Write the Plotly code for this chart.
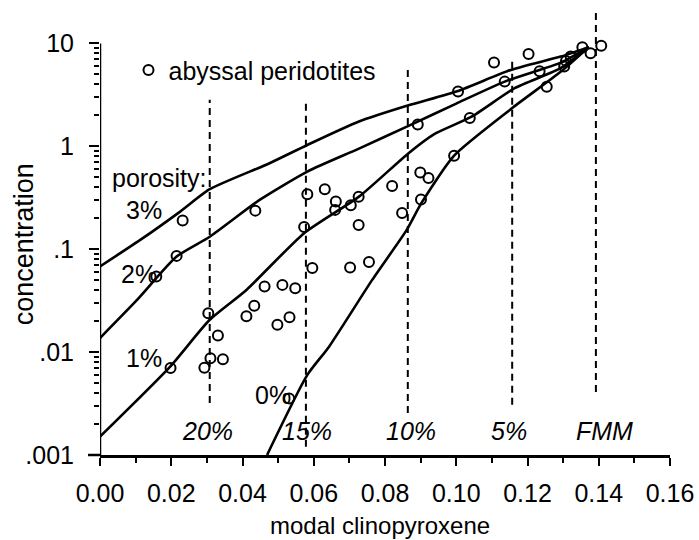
import plotly.graph_objects as go

# ---------------- data ----------------
# model curves (porosity)
x_p3 = [0, 0.0113, 0.0225, 0.0308, 0.0476, 0.0582, 0.0727, 0.0866, 0.1005, 0.1153, 0.1293, 0.1372]
y_p3 = [0.068, 0.123, 0.232, 0.383, 0.685, 1.03, 1.74, 2.5, 3.45, 5.52, 7.44, 9.2]

x_p2 = [0, 0.0104, 0.0215, 0.0308, 0.0448, 0.0582, 0.0727, 0.0866, 0.1000, 0.1136, 0.1293, 0.1372]
y_p2 = [0.0137, 0.0321, 0.0847, 0.132, 0.301, 0.568, 0.95, 1.58, 2.6, 4.25, 6.5, 9.2]

x_p1 = [0, 0.0197, 0.0308, 0.0411, 0.0573, 0.0727, 0.0866, 0.0936, 0.1043, 0.1164, 0.1293, 0.1372]
y_p1 = [0.00151, 0.00723, 0.0206, 0.0402, 0.143, 0.324, 0.857, 1.3, 1.94, 3.67, 5.74, 9.2]

x_p0 = [0.0469, 0.0582, 0.0643, 0.0764, 0.0861, 0.0902, 0.0994, 0.1159, 0.1294, 0.1372]
y_p0 = [0.001, 0.006, 0.0113, 0.0503, 0.154, 0.28, 0.812, 2.38, 5.32, 9.2]

curve_labels = ["3%", "2%", "1%", "0%"]

# abyssal peridotites
x_obs = [0.0158, 0.0215, 0.0232, 0.0436, 0.0198, 0.0304, 0.0331, 0.0293, 0.0310, 0.0345,
         0.0411, 0.0433, 0.0462, 0.0512, 0.0548, 0.0498, 0.0532, 0.0531, 0.0596, 0.0702,
         0.0755, 0.0582, 0.0631, 0.0662, 0.0660, 0.0704, 0.0726, 0.0573, 0.0726, 0.0820,
         0.0892, 0.0899, 0.0922, 0.0901, 0.0848, 0.0994, 0.1005, 0.1038, 0.1106, 0.1203,
         0.1136, 0.1234, 0.1254, 0.1303, 0.1308, 0.1321, 0.1354, 0.1377, 0.1407]
y_obs = [0.0542, 0.0861, 0.190, 0.237, 0.00702, 0.0239, 0.0145, 0.00705, 0.00873, 0.00853,
         0.0223, 0.0282, 0.0433, 0.0450, 0.0418, 0.0184, 0.0218, 0.00355, 0.0658, 0.0663,
         0.0750, 0.342, 0.383, 0.290, 0.241, 0.267, 0.324, 0.164, 0.172, 0.412,
         1.63, 0.555, 0.493, 0.304, 0.225, 0.811, 3.40, 1.88, 6.51, 7.87,
         4.25, 5.37, 3.78, 5.95, 6.76, 7.45, 9.15, 8.03, 9.46]

# melting-degree reference lines (modal cpx, bottom, top)
melt_labels = ["20%", "15%", "10%", "5%", "FMM"]
melt_x = [0.0308, 0.0578, 0.0864, 0.1157, 0.1392]
melt_ybot = [0.0032, 0.0012, 0.00256, 0.00307, 0.0041]
melt_ytop = [2.83, 2.83, 5.78, 6.91, 21.0]

x_ticks = [0, 0.02, 0.04, 0.06, 0.08, 0.10, 0.12, 0.14, 0.16]
x_ticktext = ["0.00", "0.02", "0.04", "0.06", "0.08", "0.10", "0.12", "0.14", "0.16"]
y_ticks = [0.001, 0.01, 0.1, 1, 10]
y_ticktext = [".001", ".01", ".1", "1", "10"]

# ---------------- figure ----------------
FONT = "Liberation Sans, Arial, Helvetica, sans-serif"
FS = 25

fig = go.Figure()

for xs, ys in [(x_p3, y_p3), (x_p2, y_p2), (x_p1, y_p1), (x_p0, y_p0)]:
    fig.add_trace(go.Scatter(x=xs, y=ys, mode="lines", showlegend=False,
                             line=dict(color="black", width=2.6, shape="spline", smoothing=0.6),
                             hoverinfo="skip"))

for mx, yb, yt in zip(melt_x, melt_ybot, melt_ytop):
    fig.add_trace(go.Scatter(x=[mx, mx], y=[yb, yt], mode="lines", showlegend=False,
                             line=dict(color="black", width=2, dash="7px,5px"), hoverinfo="skip"))

# y axis line (from .001 to 10 only)
fig.add_trace(go.Scatter(x=[0, 0], y=[y_ticks[0], y_ticks[-1]], mode="lines", showlegend=False,
                         line=dict(color="black", width=2.5), hoverinfo="skip"))

fig.add_trace(go.Scatter(x=x_obs, y=y_obs, mode="markers", name="abyssal peridotites",
                         marker=dict(symbol="circle-open", size=10, color="black",
                                     line=dict(width=2, color="black")),
                         cliponaxis=False))

annots = []
annots.append(dict(text="porosity:", x=0.0029, y=-0.307, xanchor="left", yanchor="middle"))
for lab, lx, ly in zip(curve_labels, [0.01227, 0.01102, 0.01241, 0.04868],
                       [-0.618, -1.240, -2.056, -2.416]):
    annots.append(dict(text=lab, x=lx, y=ly, xanchor="center", yanchor="middle"))
for lab, lx in zip(melt_labels, [0.03013, 0.05816, 0.08717, 0.11478, 0.14156]):
    annots.append(dict(text="<i>" + lab + "</i>", x=lx, y=-2.766, xanchor="center", yanchor="middle"))
for a in annots:
    a.update(xref="x", yref="y", showarrow=False, font=dict(family=FONT, size=FS, color="black"))

# axis titles as annotations
annots.append(dict(text="concentration", xref="paper", yref="paper", x=-0.1326, y=0.469,
                   textangle=-90, showarrow=False, xanchor="center", yanchor="middle",
                   font=dict(family=FONT, size=27, color="black")))
annots.append(dict(text="modal clinopyroxene", xref="paper", yref="paper", x=0.492, y=-0.1885,
                   showarrow=False, xanchor="center", yanchor="bottom", borderpad=0,
                   font=dict(family=FONT, size=24, color="black")))

minor_y = [m * 10 ** d for d in range(-3, 1) for m in range(2, 10)]

fig.update_layout(
    width=699, height=540,
    margin=dict(l=100, r=26, t=5, b=85),
    paper_bgcolor="white", plot_bgcolor="white",
    font=dict(family=FONT, size=FS, color="black"),
    annotations=annots,
    showlegend=True,
    legend=dict(x=0.05, y=0.855, xanchor="left", yanchor="middle",
                bgcolor="rgba(0,0,0,0)", font=dict(family=FONT, size=FS, color="black")),
    shapes=[dict(type="line", xref="paper", yref="paper", x0=-0.021, x1=0, y0=0, y1=0,
                 line=dict(color="black", width=2.5))],
    xaxis=dict(range=[0, 0.16], tickvals=x_ticks, ticktext=x_ticktext,
               showgrid=False, zeroline=False, showline=True, linecolor="black", linewidth=2.5,
               ticks="outside", ticklen=8, tickwidth=2, tickcolor="black",
               ticklabelstandoff=6,
               minor=dict(tickvals=[0.01, 0.03, 0.05, 0.07, 0.09, 0.11, 0.13, 0.15],
                          ticks="outside", ticklen=5, tickwidth=1.5, tickcolor="black"),
               tickfont=dict(family=FONT, size=FS, color="black")),
    yaxis=dict(type="log", range=[-3, 1.373], tickvals=y_ticks, ticktext=y_ticktext,
               showgrid=False, zeroline=False, showline=False,
               ticks="outside", ticklen=10, tickwidth=2, tickcolor="black",
               ticklabelstandoff=10,
               minor=dict(tickvals=minor_y, ticks="outside", ticklen=5, tickwidth=1.5,
                          tickcolor="black", showgrid=False),
               tickfont=dict(family=FONT, size=FS, color="black")),
)

fig.write_html("out.html")
